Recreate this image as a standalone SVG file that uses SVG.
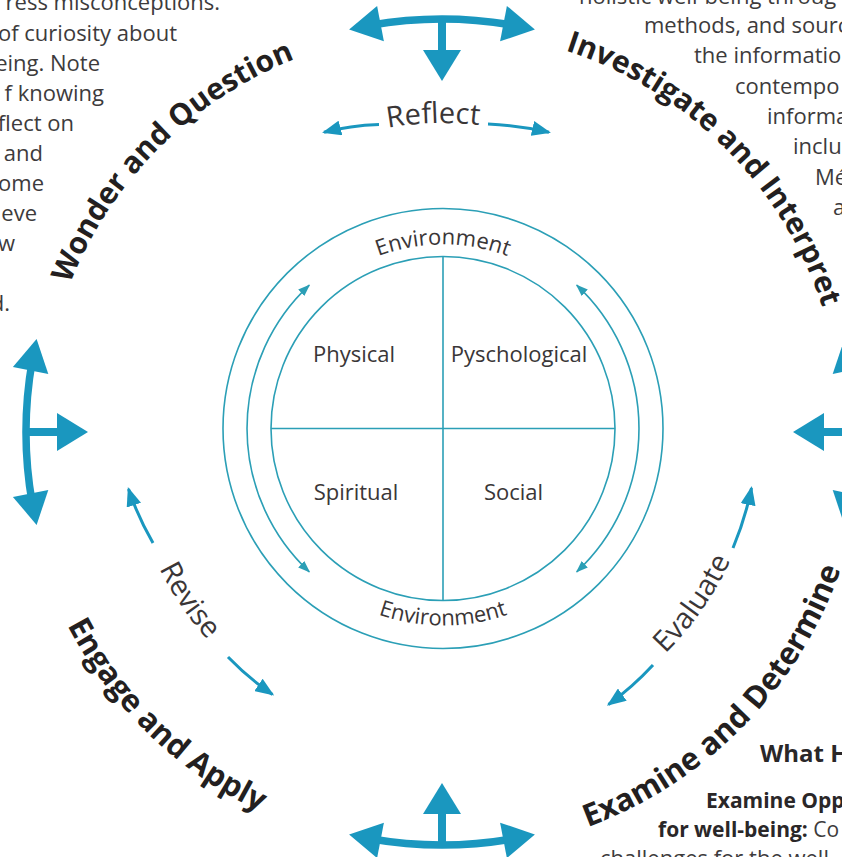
<svg xmlns="http://www.w3.org/2000/svg" width="842" height="857" viewBox="0 0 842 857">
  <style>
    .para { font-family: "Open Sans", "Liberation Sans", sans-serif; font-size: 22px; fill: #3d3b3c; }
    .para-b { font-family: "Open Sans", "Liberation Sans", sans-serif; font-weight: 700; fill: #2a2728; }
    .stage { font-family: "Open Sans", "Liberation Sans", sans-serif; font-weight: 700; fill: #231f20; }
    .verb { font-family: "Open Sans", "Liberation Sans", sans-serif; font-size: 29px; fill: #3a3637; }
    .dim { font-family: "Open Sans", "Liberation Sans", sans-serif; font-size: 22px; fill: #3a3637; text-anchor: middle; }
    .ring { fill: none; stroke: #2b9fb6; stroke-width: 1.6; }
    .thin-arrow { fill: none; stroke: #2b9fb6; stroke-width: 1.6; marker-start: url(#thinHead); marker-end: url(#thinHead); }
    .cycle-arrow { fill: none; stroke: #1a97bf; stroke-width: 3; marker-end: url(#cycleHead); }
    .big { fill: #1a97bf; }
    .big-line { fill: none; stroke: #1a97bf; stroke-width: 7.5; }
  </style>
  <defs>
    <marker id="thinHead" markerUnits="userSpaceOnUse" viewBox="0 0 12 9" refX="11" refY="4.5" markerWidth="12" markerHeight="9" orient="auto-start-reverse">
      <path d="M0,0 L12,4.5 L0,9 Z" fill="#2b9fb6"/>
    </marker>
    <marker id="cycleHead" markerUnits="userSpaceOnUse" viewBox="0 0 19 15" refX="17" refY="7.5" markerWidth="19" markerHeight="15" orient="auto">
      <path d="M0,0 L19,7.5 L0,15 Z" fill="#1a97bf"/>
    </marker>
    <!-- three-way arrow, drawn at the top of the cycle; rotated copies for the other sides -->
    <g id="tripleArrow">
      <path class="big-line" d="M370.3,25.3 A413,413 0 0 1 513.7,25.3"/>
      <polygon class="big" points="349.1,29.6 383.9,41.3 377.1,5.9"/>
      <polygon class="big" points="534.9,29.6 500.1,41.3 506.9,5.9"/>
      <line x1="442" y1="19" x2="442" y2="52" stroke="#1a97bf" stroke-width="8"/>
      <polygon class="big" points="423,50 461,50 442,81"/>
    </g>
    <!-- circular guides for curved labels -->
    <path id="stageTop" d="M42,431 A400,400 0 0 1 842,431"/>
    <path id="stageBottom" d="M20,431 A422,422 0 0 0 864,431"/>
    <path id="verbTop" d="M137,429 A306,306 0 0 1 749,429"/>
    <path id="verbBottom" d="M127,429 A316,316 0 0 0 759,429"/>
    <path id="envTop" d="M259,428.5 A184,184 0 0 1 627,428.5"/>
    <path id="envBottom" d="M246,428.5 A197,197 0 0 0 640,428.5"/>
  </defs>

  <!-- side text blocks, running off the page edges -->
  <g id="text-left" class="para" text-anchor="end">
    <text x="220" y="10">ress misconceptions.</text>
    <text x="177" y="40.7">of curiosity about</text>
    <text x="100" y="70.7">eing. Note</text>
    <text x="104" y="100.7">f knowing</text>
    <text x="74" y="130.7">flect on</text>
    <text x="43" y="160.7">and</text>
    <text x="44" y="190.7">ome</text>
    <text x="37" y="220.7">eve</text>
    <text x="15" y="250.7">w</text>
    <text x="10" y="311">d.</text>
  </g>
  <g id="text-right" class="para">
    <text x="579" y="4">holistic well-being throug</text>
    <text x="644" y="33">methods, and sourc</text>
    <text x="694" y="63.3">the informatio</text>
    <text x="735" y="93.6">contempo</text>
    <text x="767" y="124">informa</text>
    <text x="793" y="154">inclu</text>
    <text x="815" y="184.5">Mé</text>
    <text x="833" y="215">a</text>
  </g>
  <g id="text-bottom-right">
    <text class="para-b" x="760" y="762" font-size="24">What H</text>
    <text class="para-b" x="706" y="808" font-size="21">Examine Opp</text>
    <text class="para-b" x="658" y="837" font-size="21">for well-being: <tspan font-weight="400" fill="#3d3b3c">Co</tspan></text>
    <text class="para" x="600" y="866">challenges for the well</text>
  </g>

  <!-- stage arrows at the four sides -->
  <g id="stage-arrows">
    <use href="#tripleArrow"/>
    <use href="#tripleArrow" transform="rotate(90 442 432)"/>
    <use href="#tripleArrow" transform="rotate(180 442 432)"/>
    <use href="#tripleArrow" transform="translate(-3 0) rotate(-90 442 432)"/>
  </g>

  <!-- stage names around the cycle -->
  <g id="stage-wonder">
    <text class="stage" font-size="30"><textPath href="#stageTop" startOffset="25%" text-anchor="middle">Wonder and Question</textPath></text>
  </g>
  <g id="stage-investigate">
    <text class="stage" font-size="30"><textPath href="#stageTop" startOffset="75%" text-anchor="middle">Investigate and Interpret</textPath></text>
  </g>
  <g id="stage-examine">
    <text class="stage" font-size="31"><textPath href="#stageBottom" startOffset="75.3%" text-anchor="middle">Examine and Determine</textPath></text>
  </g>
  <g id="stage-engage">
    <text class="stage" font-size="31"><textPath href="#stageBottom" startOffset="25.5%" text-anchor="middle">Engage and Apply</textPath></text>
  </g>

  <!-- process verbs with their arrows -->
  <g id="connectors">
    <path class="cycle-arrow" d="M379,124.5 Q350.1,125.4 324,132.3"/>
    <path class="cycle-arrow" d="M488,124 Q519.7,125.4 549,132.3"/>
    <path class="cycle-arrow" d="M153,543 Q137.6,516.3 128.5,489"/>
    <path class="cycle-arrow" d="M228,657 Q248.7,678.4 272.5,694.5"/>
    <path class="cycle-arrow" d="M653,665 Q632.3,687.4 608.5,704.5"/>
    <path class="cycle-arrow" d="M733,548 Q745.4,518.3 751.5,488"/>
    <path class="thin-arrow" d="M309.3,285.2 A196,196 0 0 0 309.3,571.8"/>
    <path class="thin-arrow" d="M576.7,285.2 A196,196 0 0 1 576.7,571.8"/>
  </g>
  <g id="verb-reflect">
    <text class="verb" font-size="34"><textPath href="#verbTop" startOffset="49%" text-anchor="middle">Reflect</textPath></text>
  </g>
  <g id="verb-revise">
    <text class="verb"><textPath href="#verbBottom" startOffset="18.9%" text-anchor="middle">Revise</textPath></text>
  </g>
  <g id="verb-evaluate">
    <text class="verb"><textPath href="#verbBottom" startOffset="80.6%" text-anchor="middle">Evaluate</textPath></text>
  </g>

  <!-- well-being wheel -->
  <g id="wheel">
    <circle class="ring" cx="443" cy="428.5" r="220"/>
    <circle class="ring" cx="443" cy="428.5" r="172"/>
    <line class="ring" x1="443" y1="256.5" x2="443" y2="600.5"/>
    <line class="ring" x1="271" y1="428.5" x2="615" y2="428.5"/>
  </g>
  <g id="environment-labels">
    <text class="dim"><textPath href="#envTop" startOffset="50%">Environment</textPath></text>
    <text class="dim"><textPath href="#envBottom" startOffset="50%">Environment</textPath></text>
  </g>
  <g id="dim-physical"><text class="dim" x="354" y="362">Physical</text></g>
  <g id="dim-psychological"><text class="dim" x="519" y="362">Pyschological</text></g>
  <g id="dim-spiritual"><text class="dim" x="356" y="500">Spiritual</text></g>
  <g id="dim-social"><text class="dim" x="513.5" y="500">Social</text></g>
</svg>
